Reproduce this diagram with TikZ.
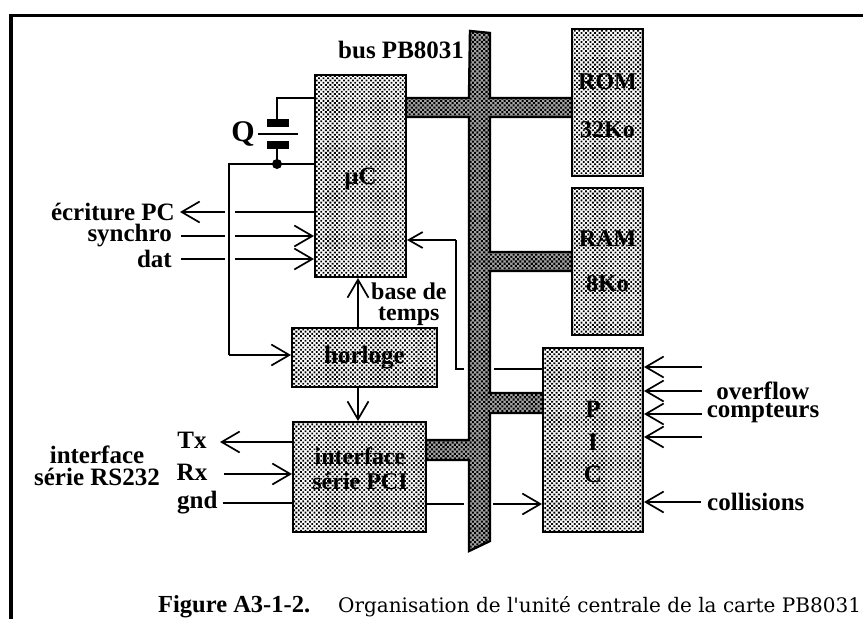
\documentclass[tikz,border=0pt]{standalone}
\usepackage{fontspec}
\setmainfont{Liberation Serif}
\newfontfamily\capfont{DejaVu Serif}
\usetikzlibrary{arrows.meta,patterns,patterns.meta}
\tikzset{
  x=1pt,y=-1pt,
  shade dots/.style={preaction={fill=white},pattern={Dots[distance=3.2pt,radius=1.3pt,angle=45]}},
  busdots/.style={preaction={fill=black!35},pattern={Dots[distance=3.2pt,radius=1.45pt,angle=45]}},
  blockbox/.style={draw=black,line width=2pt,shade dots,inner sep=0pt,align=center,
     font=\fontsize{25}{25}\selectfont\bfseries},
  lab/.style={inner sep=0pt,align=center,font=\fontsize{25}{25}\selectfont\bfseries},
  wire/.style={draw=black,line width=2pt},
  arr/.style={wire,-{Straight Barb[length=18pt,width=21pt,line width=1.7pt]}},
  smallarr/.style={wire,-{Straight Barb[length=14pt,width=16pt,line width=1.7pt]}},
}
\begin{document}
\begin{tikzpicture}
\useasboundingbox (0,0) rectangle (863,619);
% frame
\draw[black,line width=3.5pt] (11,619) -- (11,15.5) -- (863,15.5);
% bus
\draw[black,line width=2.4pt,busdots]
  (470,31) -- (490,33) -- (490,98) -- (572,98) -- (572,117) -- (490,117)
  -- (490,252) -- (572,252) -- (572,271) -- (490,271)
  -- (490,393) -- (543,393) -- (543,413) -- (490,413)
  -- (490,541) -- (469,551) -- (469,460) -- (426,460) -- (426,440) -- (469,440)
  -- (469,117) -- (406,117) -- (406,98) -- (469,98) -- cycle;
% blocks
\node[blockbox,minimum width=91pt,minimum height=202pt] (uc) at (360.5,176) {\rule{0pt}{23pt}µC};
\node[blockbox,minimum width=71pt,minimum height=147pt,font=\fontsize{24}{48}\selectfont\bfseries] (rom) at (607.5,102.5) {\rule{0pt}{22pt}ROM\\32Ko};
\node[blockbox,minimum width=71pt,minimum height=147pt,font=\fontsize{24}{45}\selectfont\bfseries] (ram) at (607.5,261.5) {RAM\\8Ko};
\node[blockbox,minimum width=100pt,minimum height=184pt,font=\fontsize{25}{32.5}\selectfont\bfseries] (pic) at (593,440) {\rule{0pt}{21pt}P\\I\\C};
\node[blockbox,minimum width=145pt,minimum height=59pt] (horloge) at (364.5,357.5) {horloge};
\node[blockbox,minimum width=133pt,minimum height=110pt,anchor=north] (pci) at (359.5,421) {};
\node[lab,font=\fontsize{24}{25}\selectfont\bfseries] (pcilab) at (360,469) {interface\\série PCI};
% labels
\node[lab,anchor=west] (bus) at (338,49.5) {bus PB8031};
\node[lab,font=\fontsize{30}{30}\selectfont\bfseries] (q) at (243,134) {Q};
\node[lab,anchor=east] (ecr) at (175,212) {écriture PC};
\node[lab,anchor=east] (syn) at (172,236) {synchro};
\node[lab,anchor=east] (dat) at (172,259) {dat};
\node[lab,anchor=west,font=\fontsize{24}{21}\selectfont\bfseries] (bdt) at (371,304) {base de\\temps};
\node[lab] (tx) at (192,440) {Tx};
\node[lab] (rx) at (192,472) {Rx};
\node[lab,anchor=west] (gnd) at (177,503) {gnd};
\node[lab,font=\fontsize{25}{22}\selectfont\bfseries] (rs) at (97,466) {interface\\série RS232};
\node[lab,font=\fontsize{25}{18}\selectfont\bfseries] (ovf) at (763,402.5) {overflow\\compteurs};
\node[lab,anchor=west] (col) at (707,502) {collisions};
\node[inner sep=0pt,anchor=west,font=\fontsize{20}{22}\selectfont] (cap) at (158,607)
  {{\fontsize{24.5}{26}\selectfont\bfseries Figure A3-1-2.}\hspace{28pt}{\capfont Organisation de l'unité centrale de la carte PB8031}};
% named free ends
\coordinate (jq) at (277,164);
\coordinate (ecrA) at (225,212);\coordinate (ecrB) at (235,212);
\coordinate (synA) at (225,236);\coordinate (synB) at (235,236);
\coordinate (datA) at (225,259);\coordinate (datB) at (235,259);
\coordinate (pgapR) at (494,369);\coordinate (pgapL) at (464,369);
\coordinate (ggapL) at (464,504);\coordinate (ggapR) at (493,504);
% crystal
\node[fill=black,inner sep=0pt,minimum width=22pt,minimum height=8pt] (p1) at (278,123) {};
\node[fill=black,inner sep=0pt,minimum width=22pt,minimum height=8pt] (p2) at (278,144.5) {};
\node[fill=black,inner sep=0pt,minimum width=40pt,minimum height=1.6pt] (p0) at (278,134) {};
\draw[wire] (uc.west |- 0,98) -- (277,98) -- (p1.north -| 277,0);
\draw[wire] (p2.south -| 277,0) -- (jq);
\node[circle,fill=black,inner sep=0pt,minimum size=10pt] (dot) at (jq) {};
\draw[wire] (uc.west |- jq) -- (jq) -- (229,164) -- (229,355);
\draw[arr] (229,355) -- (horloge.west |- 0,355);
% left signals
\draw[wire] (uc.west |- ecrB) -- (ecrB);
\draw[arr] (ecrA) -- (180,212);
\draw[wire] (181,236) -- (synA);
\draw[arr] (synB) -- (uc.west |- synB);
\draw[wire] (181,259) -- (datA);
\draw[arr] (datB) -- (uc.west |- datB);
% clock
\draw[arr] (horloge.north -| 358,0) -- (uc.south -| 358,0);
\draw[arr] (horloge.south -| 358,0) -- (pci.north -| 358,0);
% serial
\draw[arr] (pci.west |- 0,442) -- (220,442);
\draw[arr] (224,474) -- (pci.west |- 0,474);
\draw[wire] (223,503) -- (pci.west |- 0,503);
\draw[wire] (pci.east |- ggapL) -- (ggapL);
\draw[arr] (ggapR) -- (pic.west |- ggapR);
% PIC to uC
\draw[wire] (pic.west |- pgapR) -- (pgapR);
\draw[wire] (pgapL) -- (456,369) -- (456,240);
\draw[smallarr] (456,240) -- (uc.east |- 0,240);
% PIC inputs
\draw[arr] (702,367) -- (pic.east |- 0,367);
\draw[arr] (702,391) -- (pic.east |- 0,391);
\draw[arr] (702,414) -- (pic.east |- 0,414);
\draw[arr] (702,437) -- (pic.east |- 0,437);
\draw[arr] (701,502) -- (pic.east |- 0,502);
\end{tikzpicture}
\end{document}
